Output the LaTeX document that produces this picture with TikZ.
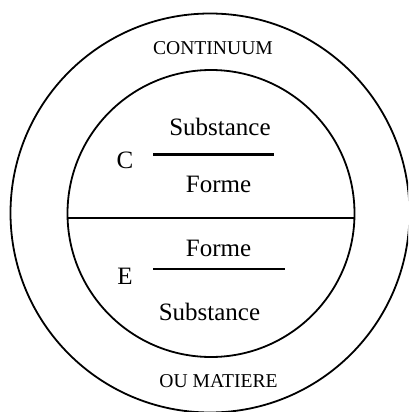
\documentclass[tikz,border=0pt]{standalone}
\usepackage{fontspec}
\setmainfont{Liberation Serif}
\begin{document}
\begin{tikzpicture}[x=1pt,y=-1pt,
  ring/.style={draw=black,line width=1.8pt},
  bar/.style={draw=black,line width=2.4pt},
  smalltxt/.style={font=\fontsize{19.6}{22}\selectfont,anchor=base,inner sep=0pt},
  bigtxt/.style={font=\fontsize{25}{28}\selectfont,anchor=base,inner sep=0pt}]
\useasboundingbox (0,0) rectangle (408,412);
\clip (0,0) rectangle (408,412);
\draw[ring] (210,213) circle[radius=199.5];
\draw[ring] (211,213.5) circle[radius=143.5];
\coordinate (hl) at (67.5,218);
\coordinate (hr) at (354.5,218);
\draw[bar] (hl) -- (hr);
\coordinate (cl) at (153,154.5);
\coordinate (cr) at (274,154.5);
\draw[bar] (cl) -- (cr);
\coordinate (el) at (153,269);
\coordinate (er) at (285,269);
\draw[bar] (el) -- (er);
\node[smalltxt] (cont) at (213,55) {CONTINUUM};
\node[smalltxt] (mat) at (218.5,387) {OU MATIERE};
\node[bigtxt] (s1) at (220,135) {Substance};
\node[bigtxt] (c) at (125,168) {C};
\node[bigtxt] (f1) at (218.5,192.5) {Forme};
\node[bigtxt] (f2) at (218.5,256) {Forme};
\node[bigtxt] (e) at (125,284) {E};
\node[bigtxt] (s2) at (209.5,320) {Substance};
\end{tikzpicture}
\end{document}
